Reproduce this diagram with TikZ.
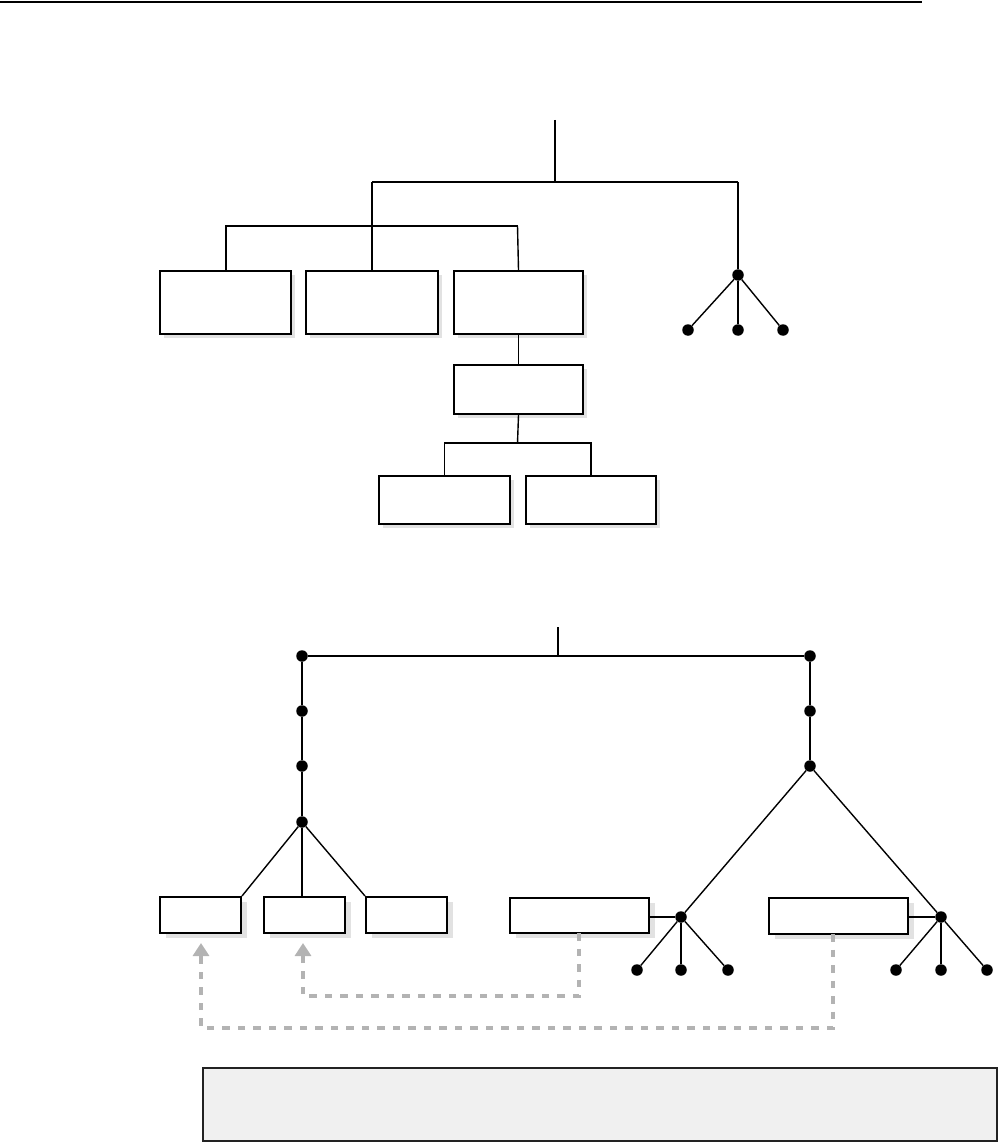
\documentclass[tikz,border=0pt]{standalone}
\usetikzlibrary{arrows.meta,shadows}
\definecolor{shadowgray}{HTML}{E2E2E2}
\definecolor{dashgray}{HTML}{B3B3B3}
\definecolor{notefill}{HTML}{F0F0F0}
\definecolor{noteedge}{HTML}{222222}
\begin{document}
\begin{tikzpicture}[x=1pt,y=-1pt,
  boxtop/.style={draw=black,line width=2pt,fill=white,rectangle,inner sep=0pt,anchor=north west,
    drop shadow={shadow xshift=4pt,shadow yshift=-4pt,fill=shadowgray,opacity=1}},
  boxbot/.style={draw=black,line width=2pt,fill=white,rectangle,inner sep=0pt,anchor=north west,
    drop shadow={shadow xshift=6pt,shadow yshift=-5pt,fill=shadowgray,opacity=1}},
  dot/.style={circle,fill=black,draw=none,minimum size=11.5pt,inner sep=0pt},
  thickline/.style={line width=2pt},
  thinline/.style={line width=1.4pt},
  dashline/.style={draw=dashgray,line width=3.3pt,dash pattern=on 7.5pt off 8pt,
    -{Triangle[width=16pt,length=13pt,fill=dashgray]}}
]
\useasboundingbox (0,0) rectangle (998,1142);

% top rule
\coordinate (ruleL) at (0,2);
\coordinate (ruleR) at (922,2);
\draw[line width=1.6pt] (ruleL) -- (ruleR);

% ---------- upper diagram ----------
\node[boxtop,minimum width=131pt,minimum height=63pt] (b1) at (159,270) {};
\node[boxtop,minimum width=132pt,minimum height=63pt] (b2) at (305,270) {};
\node[boxtop,minimum width=129pt,minimum height=63pt] (b3) at (453,270) {};
\node[boxtop,minimum width=129pt,minimum height=49pt] (b4) at (453,364) {};
\node[boxtop,minimum width=131pt,minimum height=48pt] (b5) at (378,475) {};
\node[boxtop,minimum width=130pt,minimum height=48pt] (b6) at (525,475) {};

\node[dot] (t0) at (738,275) {};
\node[dot] (t1) at (688,330) {};
\node[dot] (t2) at (738,330) {};
\node[dot] (t3) at (783,330) {};

\coordinate (r0) at (555,120);
\coordinate (r1) at (555,182);
\coordinate (hL) at (372,182);
\coordinate (hR) at (738,182);
\coordinate (m3) at (517.5,226);
\coordinate (j4) at (517.5,443);

\draw[thickline] (r0) -- (r1);
\draw[thickline] (hL) -- (hR);
\draw[thickline] (hR) -- (t0);
\draw[thickline] (hL) -- (hL |- b2.north);
\draw[thickline] (b1.north) |- (m3);
\draw[thinline] (m3) -- (b3.north);
\draw[thinline] (t0) -- (t1);
\draw[thinline] (t0) -- (t2);
\draw[thinline] (t0) -- (t3);
\draw[thinline] (b3.south) -- (b4.north);
\draw[thinline] (b4.south) -- (j4);
\draw[thinline] (j4) -| (b5.north);
\draw[thinline] (j4) -| (b6.north);

% ---------- lower diagram ----------
\node[boxbot,minimum width=81pt,minimum height=36pt] (bA) at (159,896) {};
\node[boxbot,minimum width=81pt,minimum height=36pt] (bB) at (263,896) {};
\node[boxbot,minimum width=81pt,minimum height=36pt] (bC) at (365,896) {};
\node[boxbot,minimum width=139pt,minimum height=35pt] (bD) at (509,897) {};
\node[boxbot,minimum width=139pt,minimum height=36pt] (bE) at (768,897) {};

\node[dot] (L0) at (302,656) {};
\node[dot] (L1) at (302,711) {};
\node[dot] (L2) at (302,766) {};
\node[dot] (L3) at (302,822) {};
\node[dot] (R0) at (810,656) {};
\node[dot] (R1) at (810,711) {};
\node[dot] (R2) at (810,766) {};
\node[dot] (D0) at (681,917) {};
\node[dot] (D1) at (637,970) {};
\node[dot] (D2) at (681,970) {};
\node[dot] (D3) at (728,970) {};
\node[dot] (E0) at (941,917) {};
\node[dot] (E1) at (896,970) {};
\node[dot] (E2) at (941,970) {};
\node[dot] (E3) at (987,970) {};

\coordinate (s0) at (558,627);
\coordinate (s1) at (558,656);
\draw[thickline] (s0) -- (s1);
\draw[thinline] (L0) -- (R0);
\draw[thinline] (L0) -- (L1);
\draw[thinline] (L1) -- (L2);
\draw[thinline] (L2) -- (L3);
\draw[thinline] (L3) -- (bA.north east);
\draw[thinline] (L3) -- (L3 |- bB.north);
\draw[thinline] (L3) -- (bC.north west);
\draw[thickline] (R0) -- (R1);
\draw[thickline] (R1) -- (R2);
\draw[thinline] (R2) -- (D0);
\draw[thinline] (R2) -- (E0);
\draw[thinline] (D0) -- (D0 -| bD.east);
\draw[thinline] (E0) -- (E0 -| bE.east);
\draw[thinline] (D0) -- (D1);
\draw[thinline] (D0) -- (D2);
\draw[thinline] (D0) -- (D3);
\draw[thinline] (E0) -- (E1);
\draw[thinline] (E0) -- (E2);
\draw[thinline] (E0) -- (E3);

% dashed references
\coordinate (dD) at (579,933);
\coordinate (dB) at (303,943);
\coordinate (dE) at (833,934);
\coordinate (dA) at (201,943);
\draw[dashline] (dD) -- ++(0,63) -| (dB);
\draw[dashline] (dE) -- ++(0,94) -| (dA);

% note box
\node[draw=noteedge,fill=notefill,line width=2pt,rectangle,inner sep=0pt,anchor=north west,
      minimum width=794pt,minimum height=73pt] (note) at (202,1067) {};
\end{tikzpicture}
\end{document}
